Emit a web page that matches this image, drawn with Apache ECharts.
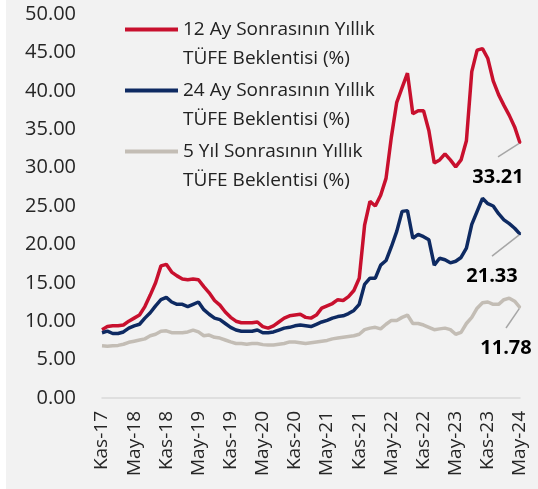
<!DOCTYPE html>
<html><head><meta charset="utf-8">
<script src="https://cdn.jsdelivr.net/npm/echarts@6/dist/echarts.min.js"></script>
<style>html,body{margin:0;padding:0;background:#fff}#c{width:538px;height:489px}</style>
</head><body><div id="c"></div>
<script>
const monthNames = ['Oca','Şub','Mar','Nis','May','Haz','Tem','Ağu','Eyl','Eki','Kas','Ara'];
const categories = [];
for (let k = 0; k < 79; k++) { const m = (10 + k) % 12; const y = 17 + Math.floor((10 + k) / 12); categories.push(monthNames[m] + '-' + y); }

const seriesNames = ['12 Ay Sonrasının Yıllık\nTÜFE Beklentisi (%)', '24 Ay Sonrasının Yıllık\nTÜFE Beklentisi (%)', '5 Yıl Sonrasının Yıllık\nTÜFE Beklentisi (%)'];

const exp12m = [8.9,9.3,9.4,9.4,9.5,10.0,10.4,10.8,11.9,13.4,15.0,17.2,17.4,16.4,15.9,15.5,15.4,15.5,15.4,14.5,13.7,12.7,12.1,11.2,10.5,10.0,9.8,9.8,9.8,9.9,9.3,9.1,9.4,9.9,10.4,10.7,10.8,10.9,10.5,10.4,10.8,11.7,12.0,12.3,12.8,12.7,13.2,14.0,15.6,22.5,25.6,25.0,26.4,28.6,34.0,38.5,40.4,42.3,37.0,37.4,37.4,34.8,30.6,31.0,31.8,31.0,30.1,31.0,33.5,42.5,45.3,45.5,44.2,41.3,39.5,38.1,36.8,35.3,33.21];
const exp24m = [8.5,8.7,8.4,8.4,8.6,9.1,9.4,9.6,10.4,11.1,12.0,12.8,13.1,12.5,12.2,12.2,11.9,12.2,12.5,11.5,10.9,10.4,10.2,9.7,9.2,8.85,8.7,8.7,8.7,8.85,8.5,8.5,8.6,8.85,9.1,9.2,9.4,9.5,9.4,9.3,9.6,9.9,10.1,10.4,10.6,10.7,11.0,11.4,12.2,14.8,15.6,15.6,17.3,17.9,19.7,21.7,24.3,24.4,20.8,21.3,21.0,20.6,17.3,18.2,18.0,17.6,17.8,18.3,19.5,22.6,24.3,26.0,25.3,25.0,24.0,23.2,22.7,22.1,21.33];
const exp5y = [6.8,6.75,6.8,6.85,7.0,7.25,7.4,7.55,7.7,8.1,8.3,8.7,8.75,8.5,8.5,8.5,8.6,8.85,8.6,8.1,8.2,7.9,7.8,7.55,7.3,7.1,7.1,7.0,7.1,7.1,6.95,6.9,6.9,7.0,7.1,7.3,7.3,7.2,7.1,7.2,7.3,7.4,7.5,7.7,7.8,7.9,8.0,8.1,8.3,8.9,9.1,9.2,9.0,9.6,10.1,10.1,10.5,10.8,9.7,9.7,9.5,9.2,8.9,9.0,9.1,8.9,8.3,8.55,9.7,10.5,11.7,12.4,12.5,12.2,12.2,12.8,13.0,12.6,11.78];

const colors = ['#C8102E', '#0E2A62', '#C3BDB5'];
const endOffsets = [[-22, 34], [-28, 42], [-14, 40.5]];

function buildSeries(name, values, color, off) {
  const last = values.length - 1;
  const data = values.map((v, i) => i === last ? {
    value: v, symbol: 'circle', symbolSize: 2,
    label: { show: true },
    labelLine: { show: true }
  } : v);
  return {
    name: name, type: 'line', data: data,
    symbol: 'none', showSymbol: true, showAllSymbol: true,
    lineStyle: { color: color, width: 3.5 },
    itemStyle: { color: color },
    label: {
      show: false, position: 'inside', color: '#000', fontSize: 20, fontWeight: 'bold',
      fontFamily: 'Open Sans', padding: [20, 0, 0, 0], backgroundColor: 'rgba(0,0,0,0)',
      formatter: p => Number(p.value).toFixed(2)
    },
    labelLine: { show: false, length2: 0, smooth: false, lineStyle: { color: '#a6a6a6', width: 1.5 } },
    labelLayout: p => (p.dataIndex === last ? { dx: off[0], dy: off[1] } : {}),
    emphasis: { disabled: true }
  };
}

const chart = echarts.init(document.getElementById('c'), null, { renderer: 'canvas' });
chart.setOption({
  backgroundColor: '#f2f2f2',
  animation: false,
  color: colors,
  graphic: [{ type: 'rect', left: 0, top: 0, shape: { width: 6, height: 489 }, style: { fill: '#ffffff' }, silent: true }],
  grid: { left: 102, right: 18, top: 14, bottom: 91, containLabel: false },
  legend: {
    orient: 'vertical', left: 125, top: -14, padding: 0, itemGap: -26,
    icon: 'rect', itemWidth: 53, itemHeight: 4, selectedMode: false,
    formatter: n => '\n' + n,
    textStyle: { fontFamily: 'Open Sans', fontSize: 19, color: '#222', lineHeight: 29 },
    data: seriesNames
  },
  xAxis: {
    type: 'category', data: categories, boundaryGap: false,
    axisLine: { lineStyle: { color: '#d9d9d9', width: 1.5 } },
    axisTick: { show: false },
    axisLabel: { interval: 5, rotate: 90, margin: 13, fontFamily: 'Open Sans', fontSize: 19, color: '#262626' }
  },
  yAxis: {
    type: 'value', min: 0, max: 50, interval: 5,
    axisLine: { show: false }, axisTick: { show: false }, splitLine: { show: false },
    axisLabel: { margin: 26, fontFamily: 'Open Sans', fontSize: 20, color: '#262626', formatter: v => v.toFixed(2) }
  },
  series: [
    buildSeries(seriesNames[0], exp12m, colors[0], endOffsets[0]),
    buildSeries(seriesNames[1], exp24m, colors[1], endOffsets[1]),
    buildSeries(seriesNames[2], exp5y, colors[2], endOffsets[2])
  ]
});
</script></body></html>
